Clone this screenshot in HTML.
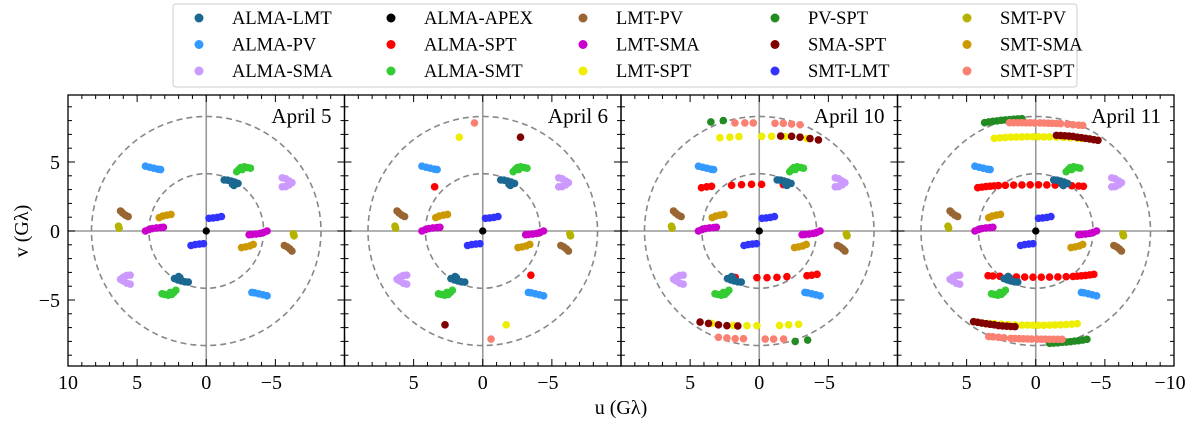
<!DOCTYPE html>
<html><head><meta charset="utf-8"><style>
html,body{margin:0;padding:0;background:#fff;}
svg{display:block;font-family:"Liberation Serif",serif;}
</style></head><body>
<svg id="chart" width="1200" height="422" viewBox="0 0 1200 422" xmlns="http://www.w3.org/2000/svg"></svg>
<script>
// ---- data ----
const baselines = ["ALMA-LMT","ALMA-PV","ALMA-SMA","ALMA-APEX","ALMA-SPT","ALMA-SMT","LMT-PV","LMT-SMA","LMT-SPT","PV-SPT","SMA-SPT","SMT-LMT","SMT-PV","SMT-SMA","SMT-SPT"];
const colors = ["#1b6891","#3399ff","#cc99ff","#000000","#ff0000","#33cc33","#996633","#cc00cc","#eeee00","#228b22","#800000","#3333ff","#b3b300","#cc9900","#fa8072"];
const days = ["April 5","April 6","April 10","April 11"];
const xTicks = [[10,5,0,-5],[5,0,-5],[5,0,-5],[5,0,-5,-10]];
const yTicks = [5,0,-5];
const circleRadii = [4.15,8.3];

// common tracks (half; conjugate mirrored)
const almaLmt = [[-1.3,3.7],[-1.55,3.68],[-1.8,3.62],[-2.05,3.55],[-2.3,3.45],[-2.0,3.3],[-1.9,3.38]];
const almaSmt = [[-2.2,4.3],[-2.35,4.45],[-2.5,4.6],[-2.75,4.65],[-3.0,4.6],[-3.2,4.55],[-2.6,4.45]];
const almaPv = [[4.4,4.7],[4.1,4.62],[3.8,4.55],[3.5,4.48],[3.3,4.45]];
const almaSma = [[-5.5,3.85],[-5.75,3.78],[-6.0,3.62],[-6.2,3.5],[-6.0,3.35],[-5.75,3.22],[-5.5,3.2]];
const lmtPv = [[6.2,1.45],[6.05,1.3],[5.85,1.15],[5.65,1.05]];
const smtPv = [[6.35,0.35],[6.3,0.2]];
const smtSma = [[3.4,0.97],[3.15,1.08],[2.85,1.15],[2.55,1.2]];
const lmtSma = [[4.4,0.0],[4.15,0.1],[3.9,0.18],[3.6,0.22],[3.3,0.25],[3.1,0.27]];
const smtLmt = [[-0.2,0.92],[-0.5,0.95],[-0.8,0.98],[-1.1,1.05]];
const almaApex = [[0,0]];

// day-specific SPT tracks
const apr6AlmaSpt = [[3.48,3.2]];
const apr6LmtSpt = [[1.7,6.8]];
const apr6SmaSpt = [[-2.73,6.8]];
const apr6SmtSpt = [[0.6,7.83]];

const apr10PvSpt = [[3.5,7.9],[2.6,8.0]];
const apr10SmtSpt = [[1.76,7.83],[1.04,7.83],[0.43,7.83],[-1.14,7.8],[-1.74,7.8],[-2.34,7.75],[-2.95,7.7]];
const apr10LmtSpt = [[2.85,6.76],[2.13,6.8],[1.47,6.84],[-0.17,6.86],[-0.89,6.86],[-1.86,6.84],[-3.45,6.7]];
const apr10SmaSpt = [[-1.55,6.88],[-2.34,6.86],[-2.95,6.8],[-3.67,6.7],[-4.28,6.6]];
const apr10AlmaSpt = [[4.18,3.14],[3.8,3.2],[3.45,3.24],[2.0,3.31],[1.28,3.36],[0.56,3.38],[-0.17,3.38],[-1.74,3.36]];

const apr11PvSpt = [[3.7,7.85],[3.4,7.9],[3.1,7.95],[2.8,7.98],[2.5,8.02],[2.2,8.05],[1.9,8.07],[1.6,8.1],[1.3,8.12],[1.0,8.14]];
const apr11SmtSpt = [[1.9,7.85],[1.6,7.85],[1.3,7.85],[1.0,7.85],[0.7,7.84],[0.4,7.84],[0.1,7.83],[-0.3,7.83],[-0.6,7.82],[-0.9,7.81],[-1.2,7.8],[-1.5,7.79],[-1.8,7.78],[-2.3,7.74],[-2.7,7.7],[-3.1,7.67],[-3.4,7.65]];
const apr11LmtSpt = [[3.0,6.72],[2.6,6.75],[2.2,6.78],[1.8,6.8],[1.4,6.81],[1.0,6.82],[0.6,6.83],[0.2,6.83],[-0.2,6.83],[-0.6,6.82],[-1.0,6.82],[-1.5,6.8],[-2.0,6.78],[-2.5,6.75],[-3.0,6.72],[-3.4,6.7],[-3.9,6.67]];
const apr11SmaSpt = [[-1.5,6.93],[-1.8,6.92],[-2.1,6.9],[-2.4,6.88],[-2.7,6.85],[-3.0,6.8],[-3.3,6.76],[-3.6,6.72],[-3.9,6.67],[-4.2,6.62],[-4.5,6.57]];
const apr11AlmaSpt = [[4.2,3.14],[3.9,3.18],[3.6,3.22],[3.3,3.25],[3.0,3.27],[2.7,3.29],[2.2,3.31],[1.6,3.33],[1.0,3.34],[0.4,3.35],[-0.2,3.35],[-0.8,3.34],[-1.4,3.33],[-2.0,3.3],[-2.6,3.28],[-3.1,3.26],[-3.45,3.24]];

const common = {"ALMA-LMT":almaLmt,"ALMA-SMT":almaSmt,"ALMA-PV":almaPv,"ALMA-SMA":almaSma,"LMT-PV":lmtPv,"SMT-PV":smtPv,"SMT-SMA":smtSma,"LMT-SMA":lmtSma,"SMT-LMT":smtLmt,"ALMA-APEX":almaApex};
const dayTracks = [
  Object.assign({},common),
  Object.assign({},common,{"ALMA-SPT":apr6AlmaSpt,"LMT-SPT":apr6LmtSpt,"SMA-SPT":apr6SmaSpt,"SMT-SPT":apr6SmtSpt}),
  Object.assign({},common,{"PV-SPT":apr10PvSpt,"SMT-SPT":apr10SmtSpt,"LMT-SPT":apr10LmtSpt,"SMA-SPT":apr10SmaSpt,"ALMA-SPT":apr10AlmaSpt}),
  Object.assign({},common,{"PV-SPT":apr11PvSpt,"SMT-SPT":apr11SmtSpt,"LMT-SPT":apr11LmtSpt,"SMA-SPT":apr11SmaSpt,"ALMA-SPT":apr11AlmaSpt})
];
const drawOrder = ["ALMA-SMA","ALMA-PV","ALMA-SMT","LMT-PV","SMT-PV","SMT-SMA","LMT-SMA","SMT-LMT","PV-SPT","SMT-SPT","LMT-SPT","SMA-SPT","ALMA-SPT","ALMA-LMT","ALMA-APEX"];

// ---- drawing ----
const NS="http://www.w3.org/2000/svg";
const svg=document.getElementById('chart');
function mk(tag,attrs,parent){const e=document.createElementNS(NS,tag);for(const k in attrs)e.setAttribute(k,attrs[k]);(parent||svg).appendChild(e);return e;}
const TOP=95,BOT=366,PW=276.5,X0=68,S=13.8;
function yScale(v){return 231 - v*S;}

for(let d=0; d<4; d++){
  const L = X0 + d*PW, R = L+PW;
  const xScale = u => L + (10-u)*(PW/20);
  const g = mk('g',{});
  
  
  const clipId='clip'+d;
  const cp=mk('clipPath',{id:clipId},g); mk('rect',{x:L,y:TOP,width:PW,height:BOT-TOP},cp);
  const inner=mk('g',{'clip-path':'url(#'+clipId+')'},g);
  // crosshair
  const hl=mk('line',{x1:L,x2:R,y1:yScale(0),y2:yScale(0),stroke:'#999',"stroke-width":1.6},inner);
   
  const vl=mk('line',{x1:xScale(0),x2:xScale(0),y1:TOP,y2:BOT,stroke:'#999',"stroke-width":1.6},inner);
   
  circleRadii.forEach(r=>{
    const c=mk('ellipse',{cx:xScale(0),cy:yScale(0),rx:r*(PW/20),ry:r*S,fill:'none',stroke:'#888',"stroke-width":1.6,"stroke-dasharray":'6,4'},inner);
     
  });
  // points
  const tr=dayTracks[d];
  drawOrder.forEach(name=>{
    const pts=tr[name]; if(!pts) return;
    const col=colors[baselines.indexOf(name)];
    const sg=mk('g',{fill:col},inner);
    
    
    pts.forEach(p=>{
      [[p[0],p[1]],[-p[0],-p[1]]].forEach(q=>{
        const c=mk('circle',{cx:xScale(q[0]),cy:yScale(q[1]),r:name==='ALMA-APEX'?3.6:3.8},sg);
        
        
      });
    });
  });
  // ticks
  const tk=mk('g',{stroke:'#000',"stroke-width":1},g);
  for(let u=-10;u<=10;u++){
    const x=xScale(u), len=(u%5===0)?7:4;
    mk('line',{x1:x,x2:x,y1:BOT,y2:BOT-len},tk);
    mk('line',{x1:x,x2:x,y1:TOP,y2:TOP+len},tk);
  }
  for(let v=-9;v<=9;v++){
    const y=yScale(v), len=(v%5===0)?7:4;
    mk('line',{x1:L,x2:L+len,y1:y,y2:y},tk);
    mk('line',{x1:R,x2:R-len,y1:y,y2:y},tk);
  }
  const fr=mk('rect',{x:L,y:TOP,width:PW,height:BOT-TOP,fill:'none',stroke:'#000',"stroke-width":1.3},g);
   
  xTicks[d].forEach(u=>{
    const t=mk('text',{x:xScale(u)+(u<0?-4:0),y:389,"text-anchor":'middle',"font-size":20},g);
    t.textContent=u<0?'\u2212'+(-u):String(u);
     
  });
  const dl=mk('text',{x:R-13,y:123,"text-anchor":'end',"font-size":21},g);
  dl.textContent=days[d];
   
}
yTicks.forEach(v=>{
  const t=mk('text',{x:60,y:yScale(v)+7,"text-anchor":'end',"font-size":20});
  t.textContent=v<0?'\u2212'+(-v):String(v);
   
});
const yl=mk('text',{x:0,y:0,"text-anchor":'middle',"font-size":20,transform:'translate(28,231) rotate(-90)'});
yl.textContent='v (G\u03bb)';
 
const xl=mk('text',{x:621,y:414,"text-anchor":'middle',"font-size":20});
xl.textContent='u (G\u03bb)';
 

// legend
const lg=mk('g',{});
 
mk('rect',{x:173,y:4,width:904,height:83,rx:3,fill:'#fff',stroke:'#ccc',"stroke-width":1},lg);
baselines.forEach((b,i)=>{
  const col=Math.floor(i/3), row=i%3;
  const cx=199+col*192, cy=18+row*26.5;
  const e=mk('g',{},lg);
  
  
  mk('circle',{cx:cx,cy:cy,r:4.5,fill:colors[i]},e);
  const t=mk('text',{x:cx+33,y:cy+6,"font-size":18.5},e);
  t.textContent=b;
});
</script>
</body></html>
